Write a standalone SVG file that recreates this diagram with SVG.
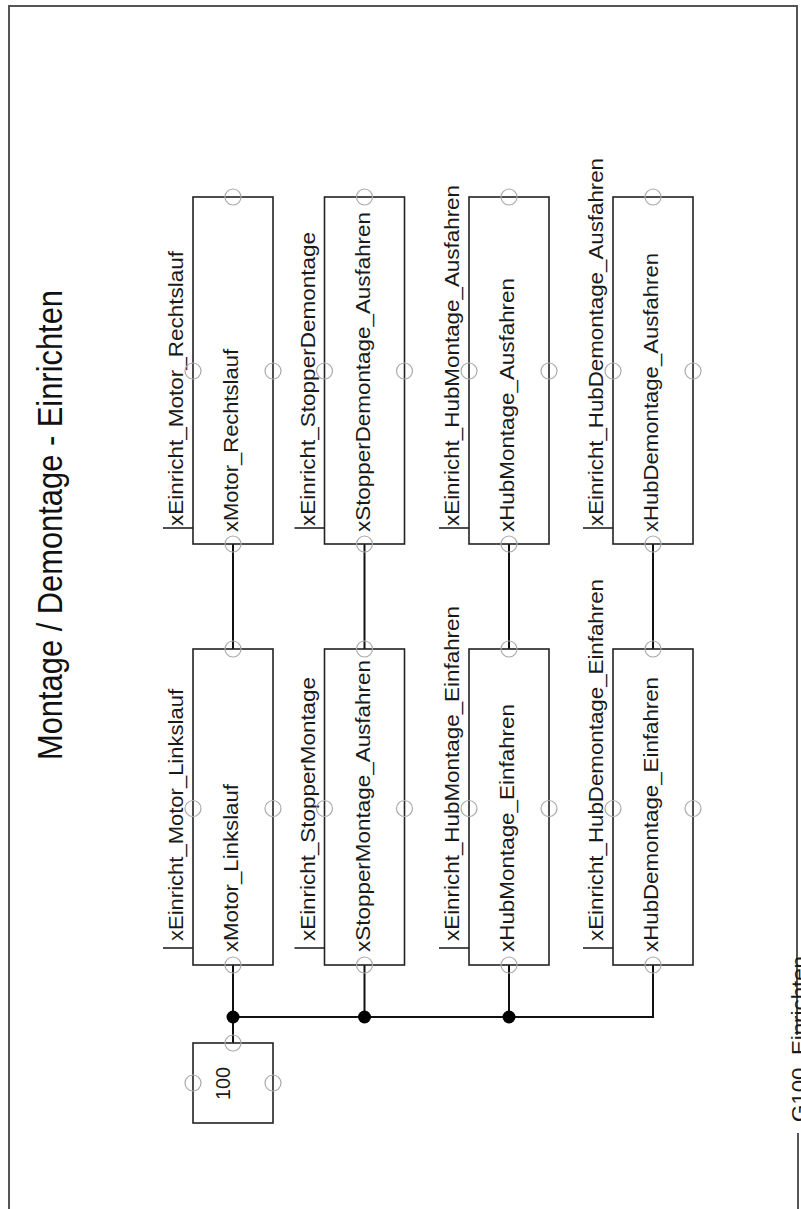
<svg xmlns="http://www.w3.org/2000/svg" width="801" height="1209" viewBox="0 0 801 1209">
<style>
.frame{fill:none;stroke:#555;stroke-width:2}
.box{fill:#fff;stroke:#222;stroke-width:1.6}
.pin{fill:none;stroke:#aaa;stroke-width:1.2}
.tick{stroke:#222;stroke-width:1.6;fill:none}
.wire{stroke:#111;stroke-width:2;fill:none}
.dot{fill:#000}
.lbl{font-family:"Liberation Sans",Arial,sans-serif;font-size:20px;fill:#1a1a1a}
.title{font-family:"Liberation Sans",Arial,sans-serif;font-size:35px;fill:#111}
</style>
<rect width="801" height="1209" fill="#fff"/>
<g id="frame">
<path class="frame" d="M9,1209 V6 H797 V1035"/>
<path class="frame" d="M798,1133 V1209"/>
<text class="lbl" transform="translate(806,1122) rotate(-90)" textLength="166" lengthAdjust="spacingAndGlyphs">G100_Einrichten</text>
</g>
<g id="title">
<text class="title" transform="translate(62,760) rotate(-90)" textLength="470" lengthAdjust="spacingAndGlyphs">Montage / Demontage - Einrichten</text>
</g>
<g id="connectors">
<path class="wire" d="M233,544 V649 M364.5,544 V649 M509,544 V649 M653,544 V649"/>
<path class="wire" d="M233,965 V1043 M364.5,965 V1017 M509,965 V1017 M233,1017 H653 V965"/>
<circle class="dot" cx="233" cy="1017" r="6.5"/>
<circle class="dot" cx="364.5" cy="1017" r="6.5"/>
<circle class="dot" cx="509" cy="1017" r="6.5"/>
</g>
<g id="n_motor_rechts">
<rect class="box" x="193" y="197" width="80" height="347"/>
<path class="tick" d="M163,528 H193"/>
<text class="lbl" transform="translate(183,526) rotate(-90)" textLength="275" lengthAdjust="spacingAndGlyphs">xEinricht_Motor_Rechtslauf</text>
<text class="lbl" transform="translate(238,532) rotate(-90)" textLength="183" lengthAdjust="spacingAndGlyphs">xMotor_Rechtslauf</text>
<circle class="pin" cx="233" cy="197" r="8"/><circle class="pin" cx="193" cy="371" r="8"/><circle class="pin" cx="273" cy="371" r="8"/><circle class="pin" cx="233" cy="544" r="8"/>
</g>
<g id="n_motor_links">
<rect class="box" x="193" y="649" width="80" height="316"/>
<path class="tick" d="M163,948 H193"/>
<text class="lbl" transform="translate(183,941) rotate(-90)" textLength="252" lengthAdjust="spacingAndGlyphs">xEinricht_Motor_Linkslauf</text>
<text class="lbl" transform="translate(238,952) rotate(-90)" textLength="168" lengthAdjust="spacingAndGlyphs">xMotor_Linkslauf</text>
<circle class="pin" cx="233" cy="649" r="8"/><circle class="pin" cx="193" cy="808.5" r="8"/><circle class="pin" cx="273" cy="808.5" r="8"/><circle class="pin" cx="233" cy="965" r="8"/>
</g>
<g id="n_stopper_demontage">
<rect class="box" x="324.5" y="197" width="80" height="347"/>
<path class="tick" d="M294.5,528 H324.5"/>
<text class="lbl" transform="translate(315,526) rotate(-90)" textLength="294" lengthAdjust="spacingAndGlyphs">xEinricht_StopperDemontage</text>
<text class="lbl" transform="translate(369.5,532) rotate(-90)" textLength="320" lengthAdjust="spacingAndGlyphs">xStopperDemontage_Ausfahren</text>
<circle class="pin" cx="364.5" cy="197" r="8"/><circle class="pin" cx="324.5" cy="371" r="8"/><circle class="pin" cx="404.5" cy="371" r="8"/><circle class="pin" cx="364.5" cy="544" r="8"/>
</g>
<g id="n_stopper_montage">
<rect class="box" x="324.5" y="649" width="80" height="316"/>
<path class="tick" d="M294.5,948 H324.5"/>
<text class="lbl" transform="translate(315,941) rotate(-90)" textLength="264" lengthAdjust="spacingAndGlyphs">xEinricht_StopperMontage</text>
<text class="lbl" transform="translate(369.5,952) rotate(-90)" textLength="292" lengthAdjust="spacingAndGlyphs">xStopperMontage_Ausfahren</text>
<circle class="pin" cx="364.5" cy="649" r="8"/><circle class="pin" cx="324.5" cy="808.5" r="8"/><circle class="pin" cx="404.5" cy="808.5" r="8"/><circle class="pin" cx="364.5" cy="965" r="8"/>
</g>
<g id="n_hubmontage_aus">
<rect class="box" x="469" y="197" width="80" height="347"/>
<path class="tick" d="M439,528 H469"/>
<text class="lbl" transform="translate(459,526) rotate(-90)" textLength="341" lengthAdjust="spacingAndGlyphs">xEinricht_HubMontage_Ausfahren</text>
<text class="lbl" transform="translate(514,532) rotate(-90)" textLength="254" lengthAdjust="spacingAndGlyphs">xHubMontage_Ausfahren</text>
<circle class="pin" cx="509" cy="197" r="8"/><circle class="pin" cx="469" cy="371" r="8"/><circle class="pin" cx="549" cy="371" r="8"/><circle class="pin" cx="509" cy="544" r="8"/>
</g>
<g id="n_hubmontage_ein">
<rect class="box" x="469" y="649" width="80" height="316"/>
<path class="tick" d="M439,948 H469"/>
<text class="lbl" transform="translate(459,941) rotate(-90)" textLength="335" lengthAdjust="spacingAndGlyphs">xEinricht_HubMontage_Einfahren</text>
<text class="lbl" transform="translate(514,952) rotate(-90)" textLength="248" lengthAdjust="spacingAndGlyphs">xHubMontage_Einfahren</text>
<circle class="pin" cx="509" cy="649" r="8"/><circle class="pin" cx="469" cy="808.5" r="8"/><circle class="pin" cx="549" cy="808.5" r="8"/><circle class="pin" cx="509" cy="965" r="8"/>
</g>
<g id="n_hubdemontage_aus">
<rect class="box" x="613" y="197" width="80" height="347"/>
<path class="tick" d="M583,528 H613"/>
<text class="lbl" transform="translate(603,526) rotate(-90)" textLength="368" lengthAdjust="spacingAndGlyphs">xEinricht_HubDemontage_Ausfahren</text>
<text class="lbl" transform="translate(658,532) rotate(-90)" textLength="279" lengthAdjust="spacingAndGlyphs">xHubDemontage_Ausfahren</text>
<circle class="pin" cx="653" cy="197" r="8"/><circle class="pin" cx="613" cy="371" r="8"/><circle class="pin" cx="693" cy="371" r="8"/><circle class="pin" cx="653" cy="544" r="8"/>
</g>
<g id="n_hubdemontage_ein">
<rect class="box" x="613" y="649" width="80" height="316"/>
<path class="tick" d="M583,948 H613"/>
<text class="lbl" transform="translate(603,941) rotate(-90)" textLength="362" lengthAdjust="spacingAndGlyphs">xEinricht_HubDemontage_Einfahren</text>
<text class="lbl" transform="translate(658,952) rotate(-90)" textLength="275" lengthAdjust="spacingAndGlyphs">xHubDemontage_Einfahren</text>
<circle class="pin" cx="653" cy="649" r="8"/><circle class="pin" cx="613" cy="808.5" r="8"/><circle class="pin" cx="693" cy="808.5" r="8"/><circle class="pin" cx="653" cy="965" r="8"/>
</g>
<g id="n_100">
<rect class="box" x="193" y="1043" width="80" height="80"/>
<text class="lbl" transform="translate(230,1100) rotate(-90)" textLength="33" lengthAdjust="spacingAndGlyphs">100</text>
<circle class="pin" cx="233" cy="1043" r="8"/><circle class="pin" cx="193" cy="1083" r="8"/><circle class="pin" cx="273" cy="1083" r="8"/>
</g>
</svg>
